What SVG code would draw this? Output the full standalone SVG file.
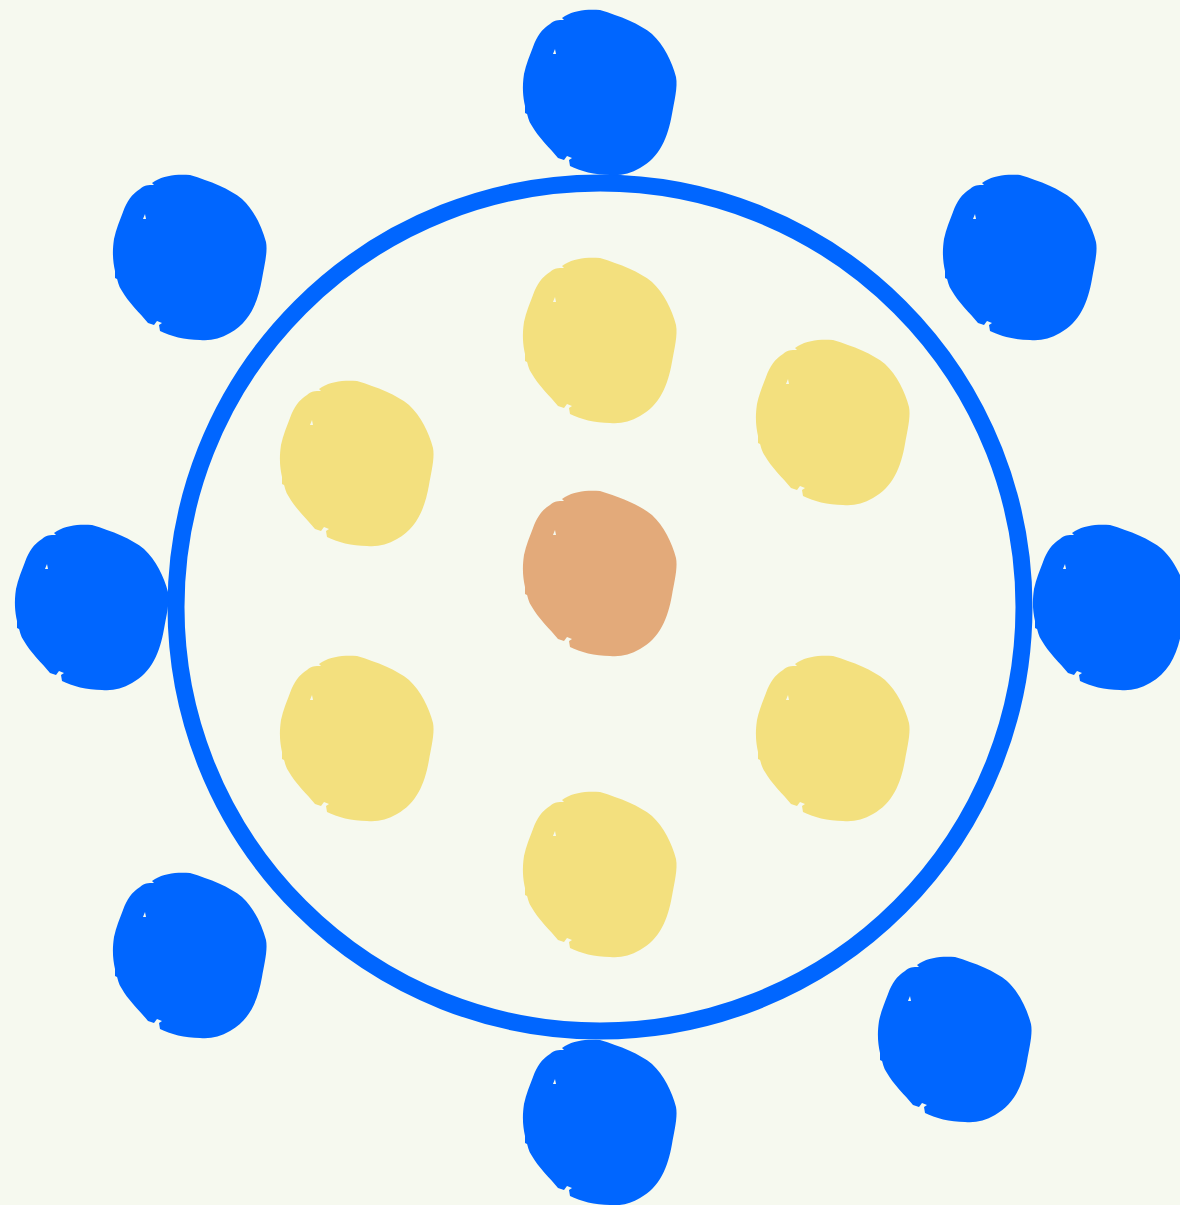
<svg xmlns="http://www.w3.org/2000/svg" xmlns:xlink="http://www.w3.org/1999/xlink" width="1180" height="1205" viewBox="0 0 1180 1205">
<style>
.blue{fill:#0066ff}
.yellow{fill:#f3e07e}
.orange{fill:#e3aa7a}
.spot{fill:#f6f9ef}
.ring{fill:none;stroke:#0066ff;stroke-width:17}
</style>
<defs>
<g id="blob">
<path d="M -35,-76 C -25,-82 -12,-83 0,-82 C 20,-76 40,-68 52,-58 C 64,-47 72,-30 76,-15 C 78,-5 74,10 72,22 C 68,45 60,65 40,76 C 30,82 20,84 10,83 C -5,83 -20,79 -30,74 L -31,68 L -28,66 L -33,64 L -36,68 L -42,66 C -50,56 -62,45 -68,34 C -72,28 -72,24 -73,22 L -75,21 L -75,14 C -77,5 -78,-5 -76,-18 C -74,-28 -70,-37 -67,-45 C -63,-56 -58,-63 -50,-68 C -46,-72 -42,-72 -36,-72 L -38,-74 Z"/>
<path class="spot" d="M -47,-38 L -45,-43 L -44,-38 Z"/>
</g>
</defs>
<rect width="1180" height="1205" fill="#f6f9ef"/>
<g id="ring"><circle class="ring" cx="600" cy="607" r="424"/></g>
<g id="b-top" class="blue"><use xlink:href="#blob" x="600" y="92"/></g>
<g id="b-tl" class="blue"><use xlink:href="#blob" x="190" y="257"/></g>
<g id="b-tr" class="blue"><use xlink:href="#blob" x="1020" y="257"/></g>
<g id="b-l" class="blue"><use xlink:href="#blob" x="92" y="607"/></g>
<g id="b-r" class="blue"><use xlink:href="#blob" x="1110" y="607"/></g>
<g id="b-bl" class="blue"><use xlink:href="#blob" x="190" y="955"/></g>
<g id="b-b" class="blue"><use xlink:href="#blob" x="600" y="1122"/></g>
<g id="b-br" class="blue"><use xlink:href="#blob" x="955" y="1039"/></g>
<g id="y-top" class="yellow"><use xlink:href="#blob" x="600" y="340"/></g>
<g id="y-ur" class="yellow"><use xlink:href="#blob" x="833" y="422"/></g>
<g id="y-ul" class="yellow"><use xlink:href="#blob" x="357" y="463"/></g>
<g id="center" class="orange"><use xlink:href="#blob" x="600" y="573"/></g>
<g id="y-ll" class="yellow"><use xlink:href="#blob" x="357" y="738"/></g>
<g id="y-lr" class="yellow"><use xlink:href="#blob" x="833" y="738"/></g>
<g id="y-b" class="yellow"><use xlink:href="#blob" x="600" y="874"/></g>
</svg>
